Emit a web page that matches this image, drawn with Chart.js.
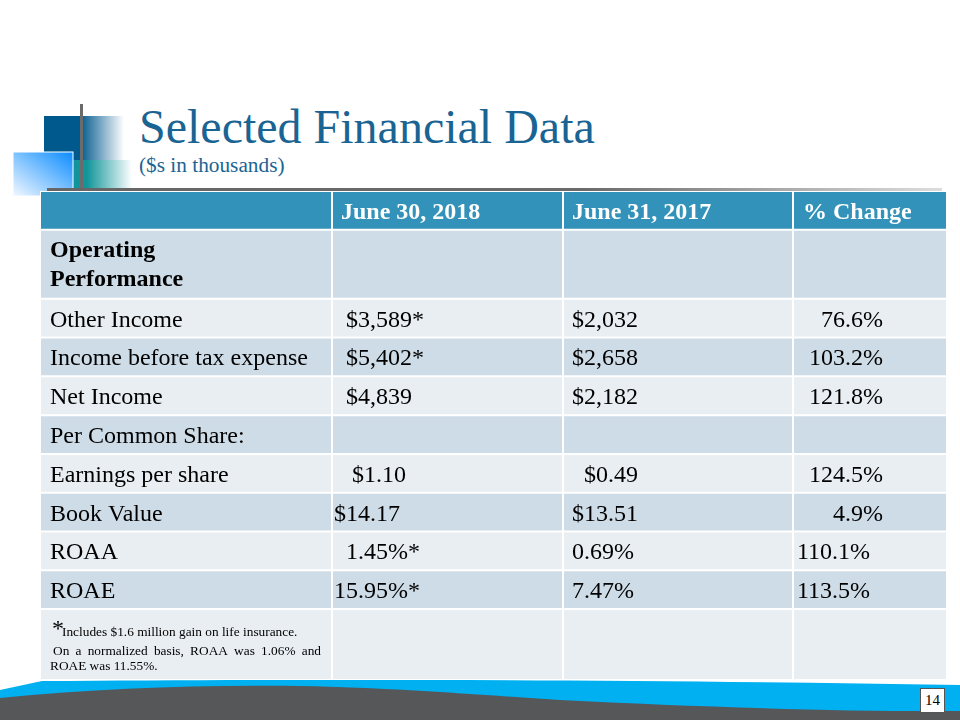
<!DOCTYPE html>
<html>
<head>
<meta charset="utf-8">
<script src="https://cdn.jsdelivr.net/npm/chart.js@4.4.0/dist/chart.umd.min.js"></script>
<style>
  html, body { margin: 0; padding: 0; background: #fff; }
  #slide { position: relative; width: 960px; height: 720px; overflow: hidden; }
  #deco, #tbl { position: absolute; left: 0; top: 0; }
</style>
</head>
<body>
<div id="slide">
  <svg id="deco" width="960" height="720" xmlns="http://www.w3.org/2000/svg">
    <defs>
      <linearGradient id="gDark" x1="0" y1="0" x2="1" y2="0">
        <stop offset="0" stop-color="#00598D"/>
        <stop offset="0.45" stop-color="#00598D"/>
        <stop offset="1" stop-color="#00598D" stop-opacity="0"/>
      </linearGradient>
      <linearGradient id="gTeal" x1="0" y1="0" x2="1" y2="0">
        <stop offset="0" stop-color="#12959A"/>
        <stop offset="0.25" stop-color="#12959A"/>
        <stop offset="1" stop-color="#12959A" stop-opacity="0"/>
      </linearGradient>
      <linearGradient id="gLight" x1="1" y1="0" x2="0" y2="1">
        <stop offset="0" stop-color="#0A8CFF"/>
        <stop offset="1" stop-color="#F2F8FF"/>
      </linearGradient>
      <linearGradient id="gRule" x1="0" y1="0" x2="1" y2="0">
        <stop offset="0" stop-color="#666"/>
        <stop offset="0.6" stop-color="#6a6a6a"/>
        <stop offset="1" stop-color="#ddd"/>
      </linearGradient>
    </defs>
    <!-- logo blocks -->
    <rect x="44" y="116" width="80" height="44" fill="url(#gDark)"/>
    <rect x="72" y="160" width="60" height="29" fill="url(#gTeal)"/>
    <rect x="13" y="152" width="60" height="44" fill="url(#gLight)" stroke="#fff" stroke-width="1"/>
    <rect x="80" y="104" width="3" height="86" fill="#6B6B6B"/>
    <rect x="47" y="188" width="895" height="3" fill="url(#gRule)"/>
    <!-- title -->
    <text x="139" y="143" font-family="Liberation Serif, Times New Roman, serif" font-size="48" fill="#1A6494">Selected Financial Data</text>
    <text x="139" y="172" font-family="Liberation Serif, Times New Roman, serif" font-size="21.3" fill="#1A6494">($s in thousands)</text>
    <!-- footer wave -->
    <path d="M0,690 L42,681 C300,679 600,679 960,685 L960,720 L0,720 Z" fill="#00B0F0"/>
    <path d="M0,698 C100,688 200,685 300,686 C400,688 480,695 560,700 C700,707 850,712 960,711 L960,720 L0,720 Z" fill="#555759"/>
    <rect x="920.5" y="688.5" width="24" height="24" fill="#fff" stroke="#555" stroke-width="1"/>
    <text x="932.5" y="705" text-anchor="middle" font-family="Liberation Serif, Times New Roman, serif" font-size="15" fill="#000">14</text>
  </svg>
  <canvas id="tbl" width="960" height="720"></canvas>
</div>

<script>
// table content
const headers = ['', 'June 30, 2018', 'June 31, 2017', '% Change'];
const rowLabels = ['Operating\nPerformance', 'Other Income', 'Income before tax expense', 'Net Income',
                   'Per Common Share:', 'Earnings per share', 'Book Value', 'ROAA', 'ROAE', ''];
const june2018 = ['', '  $3,589*', '  $5,402*', '  $4,839', '', '   $1.10', '$14.17', '  1.45%*', '15.95%*', ''];
const june2017 = ['', '$2,032', '$2,658', '$2,182', '', '  $0.49', '$13.51', '0.69%', '7.47%', ''];
const pctChange = ['', '    76.6%', '  103.2%', '  121.8%', '', '  124.5%', '      4.9%', '110.1%', '113.5%', ''];
const footnote = ['Includes $1.6 million gain on life insurance.',
                  'On a normalized basis, ROAA was 1.06% and',
                  'ROAE was 11.55%.'];

// layout
const COL_W = [292, 231, 230, 154];
const ROW_H = [1, 1.78, 1, 1, 1, 1, 1, 1, 1, 1, 1.83];
const PAD = { left: 40, right: 13, top: 191, bottom: 40 };
const HEAD_PAD = [10, 9, 9, 10];
const BODY_PAD = [10, 2, 9, 4];
const HEAD_BG = '#3392B9', DARK_BG = '#CEDCE7', LIGHT_BG = '#E8EEF2';
const FONT = '"Liberation Serif", "Times New Roman", serif';

const colEdges = [0];
COL_W.forEach(w => colEdges.push(colEdges[colEdges.length - 1] + w));
const rowTops = [0];
ROW_H.forEach(h => rowTops.push(rowTops[rowTops.length - 1] + h));
const totalRows = rowTops[rowTops.length - 1];
const unitPx = (720 - PAD.top - PAD.bottom) / totalRows;

const table = [headers].concat(rowLabels.map((l, i) => [l, june2018[i], june2017[i], pctChange[i]]));

const datasets = table.map((cells, r) => ({
  label: 'row' + r,
  cells: cells,
  data: cells.map((_, c) => ({ y: rowTops[r] + ROW_H[r] / 2, x: [colEdges[c], colEdges[c + 1]] })),
  barThickness: ROW_H[r] * unitPx,
  stack: 'tbl',
  backgroundColor: r === 0 ? HEAD_BG : (r % 2 === 1 ? DARK_BG : LIGHT_BG),
  borderColor: '#fff',
  borderWidth: 1,
  borderSkipped: false,
  inflateAmount: 0
}));

function justify(ctx, text, x0, x1, y) {
  const words = text.split(' ');
  const sum = words.reduce((s, w) => s + ctx.measureText(w).width, 0);
  const gap = (x1 - x0 - sum) / (words.length - 1);
  let x = x0;
  words.forEach(w => { ctx.fillText(w, x, y); x += ctx.measureText(w).width + gap; });
}

const cellText = {
  id: 'cellText',
  afterDatasetsDraw(chart) {
    const ctx = chart.ctx;
    ctx.save();
    ctx.textBaseline = 'alphabetic';
    ctx.textAlign = 'left';
    chart.data.datasets.forEach((ds, r) => {
      chart.getDatasetMeta(r).data.forEach((bar, c) => {
        const left = Math.min(bar.x, bar.base);
        const top = bar.y - bar.height / 2;
        const txt = ds.cells[c];
        if (r === 0) {
          ctx.font = 'bold 24px ' + FONT;
          ctx.fillStyle = '#fff';
          ctx.fillText(txt, left + HEAD_PAD[c], bar.y + 9);
          return;
        }
        ctx.fillStyle = '#000';
        if (r === table.length - 1 && c === 0) {
          ctx.font = '24px ' + FONT;
          ctx.fillText('*', left + 12, top + 27);
          ctx.font = '13.33px ' + FONT;
          ctx.fillText(footnote[0], left + 22, top + 27);
          justify(ctx, footnote[1], left + 13, left + 281, top + 46);
          ctx.fillText(footnote[2], left + 10, top + 61);
          return;
        }
        if (!txt) return;
        if (txt.indexOf('\n') >= 0) {
          ctx.font = 'bold 24px ' + FONT;
          txt.split('\n').forEach((line, k) => ctx.fillText(line, left + BODY_PAD[c], top + 27 + k * 29));
          return;
        }
        ctx.font = '24px ' + FONT;
        ctx.fillText(txt, left + BODY_PAD[c], bar.y + 8.5);
      });
    });
    ctx.restore();
  }
};

new Chart(document.getElementById('tbl'), {
  type: 'bar',
  data: { datasets: datasets },
  options: {
    indexAxis: 'y',
    responsive: false,
    animation: false,
    devicePixelRatio: 1,
    layout: { padding: PAD },
    plugins: { legend: { display: false }, tooltip: { enabled: false }, title: { display: false } },
    scales: {
      x: { type: 'linear', min: 0, max: colEdges[colEdges.length - 1], offset: false, display: false },
      y: { type: 'linear', min: 0, max: totalRows, reverse: true, stacked: true, offset: false, display: false }
    }
  },
  plugins: [cellText]
});
</script>
</body>
</html>
